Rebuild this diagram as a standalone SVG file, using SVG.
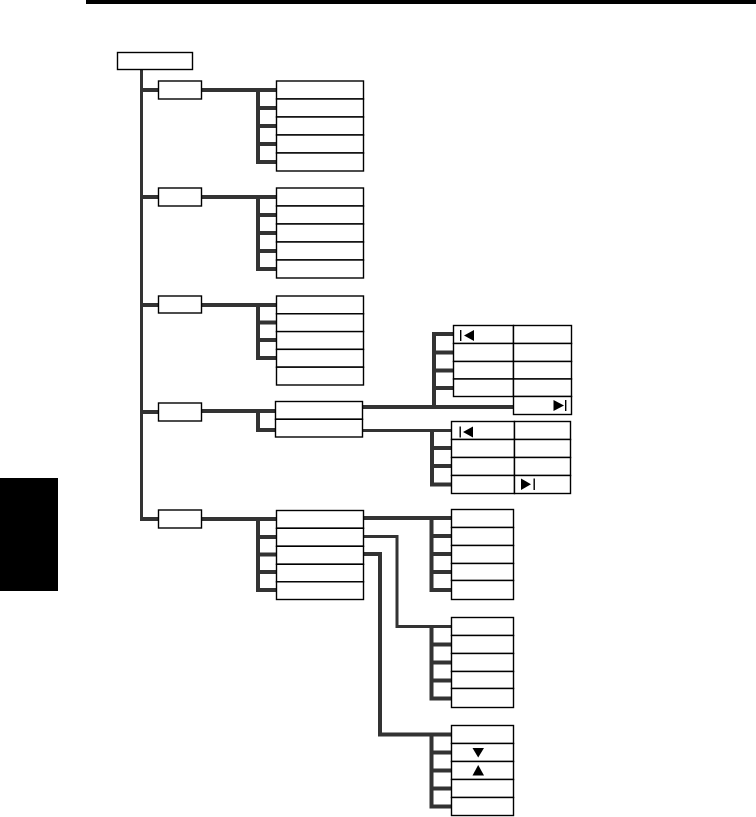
<svg xmlns="http://www.w3.org/2000/svg" width="756" height="817" viewBox="0 0 756 817">
<style>
.box{fill:#fff;stroke:#000;stroke-width:1.4}
.ln{fill:none;stroke:#333;stroke-width:4;stroke-linejoin:miter;stroke-linecap:butt}
.th{fill:none;stroke:#333;stroke-width:3;stroke-linejoin:miter}
.sym{fill:#000}
</style>
<rect x="86" y="0" width="670" height="4" fill="#000"/>
<rect x="0" y="478" width="58" height="113" fill="#000"/>
<g id="connectors">
<path class="th" d="M141.5 69 V520.5"/>
<path class="ln" d="M140 90 H158.5 M140 197 H158.5 M140 305 H158.5 M140 412 H158.5 M140 519 H158.5"/>
<path class="ln" d="M201.5 90 H276.5 M258 88 V162 H276.5 M258 108 H276.5 M258 126 H276.5 M258 144 H276.5"/>
<path class="ln" d="M201.5 197 H276.5 M258 195 V269 H276.5 M258 215 H276.5 M258 233 H276.5 M258 251 H276.5"/>
<path class="ln" d="M201.5 305 H276.5 M258 303 V358 H276.5 M258 322.5 H276.5 M258 340 H276.5"/>
<path class="ln" d="M201.5 411 H276.5 M258 409 V430 H276.5"/>
<path class="ln" d="M201.5 519 H276.5 M258 517 V590 H276.5 M258 537 H276.5 M258 554.5 H276.5 M258 572 H276.5"/>
<path class="ln" d="M363 407 H513.5 M434 409 V334 H453.5 M434 352.5 H453.5 M434 370.5 H453.5 M434 388 H453.5"/>
<path class="th" d="M363 430.5 H451.5"/>
<path class="ln" d="M432 429 V484.5 H451.5 M432 448 H451.5 M432 466 H451.5"/>
<path class="ln" d="M363 518 H451.5 M431.5 516 V590 H451.5 M431.5 536 H451.5 M431.5 554 H451.5 M431.5 572 H451.5"/>
<path class="th" d="M363 536.5 H397 V626.5 H451.5"/>
<path class="ln" d="M431.5 625 V698.5 H451.5 M431.5 644.5 H451.5 M431.5 662.5 H451.5 M431.5 680.5 H451.5"/>
<path class="ln" d="M363 554 H380 V734.5 H451.5"/>
<path class="ln" d="M431.5 733 V806.5 H451.5 M431.5 752.5 H451.5 M431.5 770.5 H451.5 M431.5 788.5 H451.5"/>
</g>
<g id="root"><rect class="box" x="117.5" y="52.5" width="75" height="17"/></g>
<g id="l1a"><rect class="box" x="158.5" y="81" width="43" height="18"/></g>
<g id="l1b"><rect class="box" x="158.5" y="188" width="43" height="18"/></g>
<g id="l1c"><rect class="box" x="158.5" y="296" width="43" height="17"/></g>
<g id="l1d"><rect class="box" x="158.5" y="403" width="43" height="18"/></g>
<g id="l1e"><rect class="box" x="158.5" y="510" width="43" height="18"/></g>
<g id="list1">
<rect class="box" x="276.5" y="81" width="87" height="18"/>
<rect class="box" x="276.5" y="99" width="87" height="18"/>
<rect class="box" x="276.5" y="117" width="87" height="18"/>
<rect class="box" x="276.5" y="135" width="87" height="18"/>
<rect class="box" x="276.5" y="153" width="87" height="18"/>
</g>
<g id="list2">
<rect class="box" x="276.5" y="188" width="87" height="18"/>
<rect class="box" x="276.5" y="206" width="87" height="18"/>
<rect class="box" x="276.5" y="224" width="87" height="18"/>
<rect class="box" x="276.5" y="242" width="87" height="18"/>
<rect class="box" x="276.5" y="260" width="87" height="18"/>
</g>
<g id="list3">
<rect class="box" x="276.5" y="296" width="87" height="17.8"/>
<rect class="box" x="276.5" y="313.8" width="87" height="17.8"/>
<rect class="box" x="276.5" y="331.6" width="87" height="17.8"/>
<rect class="box" x="276.5" y="349.4" width="87" height="17.8"/>
<rect class="box" x="276.5" y="367.2" width="87" height="17.8"/>
</g>
<g id="list4">
<rect class="box" x="275.5" y="401.5" width="87" height="17.8"/>
<rect class="box" x="275.5" y="419.3" width="87" height="17.7"/>
</g>
<g id="list5">
<rect class="box" x="276.5" y="510.5" width="87" height="17.8"/>
<rect class="box" x="276.5" y="528.3" width="87" height="18"/>
<rect class="box" x="276.5" y="546.3" width="87" height="18"/>
<rect class="box" x="276.5" y="564.3" width="87" height="17.5"/>
<rect class="box" x="276.5" y="581.8" width="87" height="17.7"/>
</g>
<g id="table4a">
<rect class="box" x="453.5" y="325.5" width="60" height="18"/>
<rect class="box" x="513.5" y="325.5" width="58" height="18"/>
<rect class="box" x="453.5" y="343.5" width="60" height="18"/>
<rect class="box" x="513.5" y="343.5" width="58" height="18"/>
<rect class="box" x="453.5" y="361.5" width="60" height="17.5"/>
<rect class="box" x="513.5" y="361.5" width="58" height="17.5"/>
<rect class="box" x="453.5" y="379" width="60" height="17.5"/>
<rect class="box" x="513.5" y="379" width="58" height="17.5"/>
<rect class="box" x="513.5" y="396.5" width="58" height="18"/>
<rect class="sym" x="460" y="330" width="1.4" height="11"/>
<polygon class="sym" points="474,330 474,341 464,335.5"/>
<polygon class="sym" points="553.5,400 553.5,411 564,405.5"/>
<rect class="sym" x="565" y="400" width="1.4" height="11"/>
</g>
<g id="table4b">
<rect class="box" x="451.5" y="421.5" width="63" height="18"/>
<rect class="box" x="514.5" y="421.5" width="56" height="18"/>
<rect class="box" x="451.5" y="439.5" width="63" height="18"/>
<rect class="box" x="514.5" y="439.5" width="56" height="18"/>
<rect class="box" x="451.5" y="457.5" width="63" height="18"/>
<rect class="box" x="514.5" y="457.5" width="56" height="18"/>
<rect class="box" x="451.5" y="475.5" width="63" height="18"/>
<rect class="box" x="514.5" y="475.5" width="56" height="18"/>
<rect class="sym" x="459.5" y="426.5" width="1.4" height="11"/>
<polygon class="sym" points="473,426.5 473,437.5 463,432"/>
<polygon class="sym" points="521,478.5 521,490 531,484.2"/>
<rect class="sym" x="533.5" y="478.5" width="1.4" height="11.5"/>
</g>
<g id="tableA">
<rect class="box" x="451.5" y="509.5" width="62" height="18"/>
<rect class="box" x="451.5" y="527.5" width="62" height="18"/>
<rect class="box" x="451.5" y="545.5" width="62" height="18"/>
<rect class="box" x="451.5" y="563.5" width="62" height="17"/>
<rect class="box" x="451.5" y="580.5" width="62" height="19"/>
</g>
<g id="tableB">
<rect class="box" x="451.5" y="617.5" width="62" height="18"/>
<rect class="box" x="451.5" y="635.5" width="62" height="18"/>
<rect class="box" x="451.5" y="653.5" width="62" height="18"/>
<rect class="box" x="451.5" y="671.5" width="62" height="17"/>
<rect class="box" x="451.5" y="688.5" width="62" height="19"/>
</g>
<g id="tableC">
<rect class="box" x="451.5" y="725.5" width="62" height="18"/>
<rect class="box" x="451.5" y="743.5" width="62" height="18"/>
<rect class="box" x="451.5" y="761.5" width="62" height="18"/>
<rect class="box" x="451.5" y="779.5" width="62" height="18"/>
<rect class="box" x="451.5" y="797.5" width="62" height="18"/>
<polygon class="sym" points="472.5,748 484,748 478.2,757.5"/>
<polygon class="sym" points="478.2,765 472.5,775.5 484,775.5"/>
</g>
</svg>
